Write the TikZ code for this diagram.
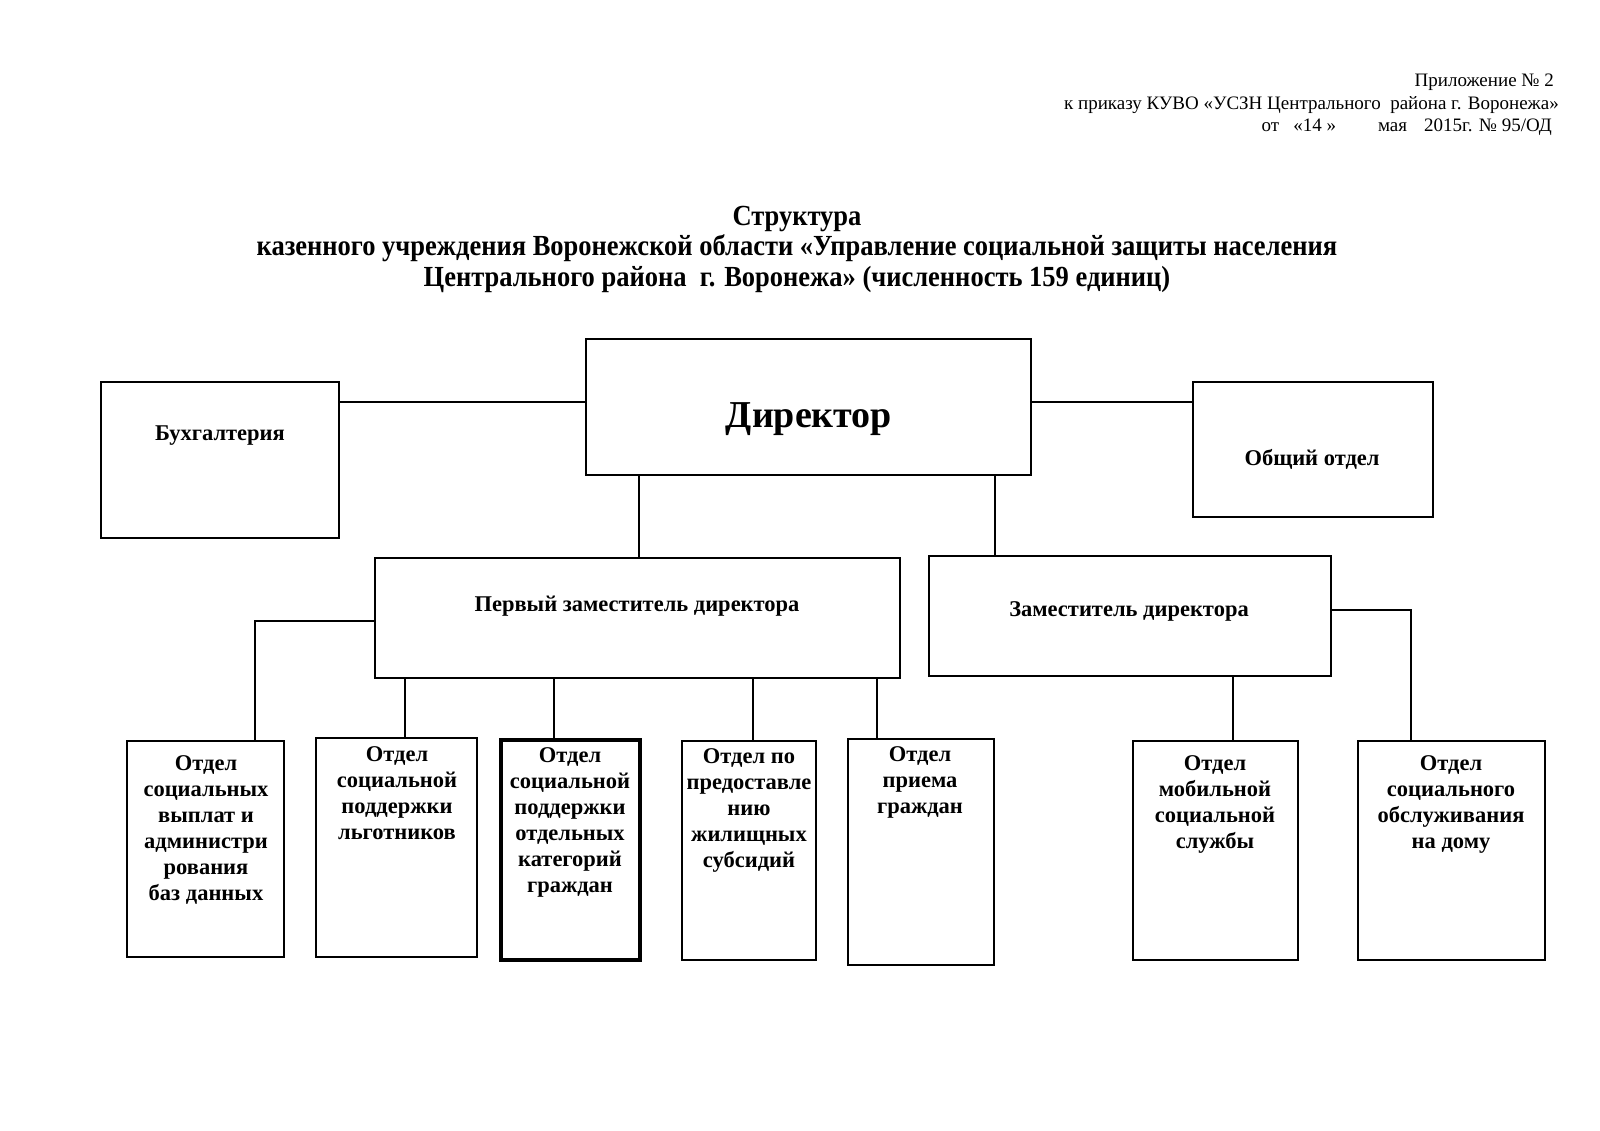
\documentclass[tikz,border=0pt]{standalone}
\usepackage{fontspec}
\setmainfont{Liberation Serif}
\begin{document}
\begin{tikzpicture}[x=1pt,y=-1pt,
  box/.style={draw, line width=2pt, inner sep=0pt},
  ln/.style={line width=2pt},
  hdr/.style={inner sep=0pt, font=\fontsize{19}{22}\selectfont},
  ttl/.style={inner sep=0pt, anchor=base, font=\fontsize{26.5}{30}\selectfont\bfseries},
  bt/.style={inner sep=0pt, anchor=north, align=center, font=\fontsize{22.5}{26}\selectfont\bfseries},
  mt/.style={inner sep=0pt, font=\fontsize{22.5}{26}\selectfont\bfseries}]
\useasboundingbox[fill=white] (0,0) rectangle (1600,1131);

% header
\node[hdr, anchor=base east] (h1) at (1554,87) {Приложение № 2};
\node[hdr, anchor=base east] (h2) at (1559,110) {к приказу КУВО «УСЗН Центрального\ \ района г. Воронежа»};
\node[hdr, anchor=base east] (h3) at (1552,132) {от\ \ \ «14 »\hspace{2.2em}мая\hspace{0.9em}2015г. № 95/ОД};

% title
\node[ttl] (t1) at (797,226) {\scalebox{1}[1.1]{Структура}};
\node[ttl] (t2) at (797,256) {\scalebox{1}[1.1]{казенного учреждения Воронежской области «Управление социальной защиты населения}};
\node[ttl] (t3) at (797,287) {\scalebox{1}[1.1]{Центрального района\ \ г. Воронежа» (численность 159 единиц)}};

% top boxes
\node[box, minimum width=445, minimum height=135.5] (dir) at (808.5,406.75) {};
\node[inner sep=0pt, font=\fontsize{38}{40}\selectfont\bfseries] (dirt) at (809,419) {Директор};
\node[box, minimum width=238, minimum height=156] (buh) at (220,460) {};
\node[mt] (buht) at (220,436) {Бухгалтерия};
\node[box, minimum width=240, minimum height=135] (obsh) at (1313,449.5) {};
\node[mt] (obsht) at (1312,459) {Общий отдел};

% deputies
\node[box, minimum width=525, minimum height=119.5] (perv) at (637.5,617.75) {};
\node[mt] (pervt) at (637,606) {Первый заместитель директора};
\node[box, minimum width=402, minimum height=119.5] (zam) at (1129.6,615.75) {};
\node[mt] (zamt) at (1129,611) {Заместитель директора};

% bottom boxes
\node[box, minimum width=156.5, minimum height=216] (b1) at (205.7,849) {};
\node[bt] (b1t) at (206,755) {Отдел\\ социальных\\ выплат и\\ администри\\ рования\\ баз данных};
\node[box, minimum width=160.5, minimum height=219] (b2) at (396.25,847.5) {};
\node[bt] (b2t) at (397,746) {Отдел\\ социальной\\ поддержки\\ льготников};
\node[box, line width=3.5pt, minimum width=139, minimum height=220] (b3) at (570.5,850) {};
\node[bt] (b3t) at (570,747) {Отдел\\ социальной\\ поддержки\\ отдельных\\ категорий\\ граждан};
\node[box, minimum width=134.4, minimum height=219] (b4) at (748.8,850.5) {};
\node[bt] (b4t) at (749,748) {Отдел по\\ предоставле\\ нию\\ жилищных\\ субсидий};
\node[box, minimum width=146, minimum height=226] (b5) at (921,852) {};
\node[bt] (b5t) at (920,746) {Отдел\\ приема\\ граждан};
\node[box, minimum width=165, minimum height=219] (b6) at (1215.5,850.5) {};
\node[bt] (b6t) at (1215,755) {Отдел\\ мобильной\\ социальной\\ службы};
\node[box, minimum width=187, minimum height=219] (b7) at (1451.5,850.5) {};
\node[bt] (b7t) at (1451,755) {Отдел\\ социального\\ обслуживания\\ на дому};

% connectors
\coordinate (c1) at ([yshift=-21pt]buh.north east);
\draw[ln] (c1) -- (c1 -| dir.west);
\draw[ln] (c1 -| dir.east) -- (c1 -| obsh.west);
\coordinate (d1) at ([xshift=54pt]dir.south west);
\draw[ln] (d1) -- (d1 |- perv.north);
\coordinate (d2) at ([xshift=-37pt]dir.south east);
\draw[ln] (d2) -- (d2 |- zam.north);
\coordinate (p0) at ([yshift=-64pt]perv.north west);
\coordinate (k1) at ([xshift=-29.5pt]b1.north east);
\draw[ln] (p0) -| (k1);
\coordinate (k2) at ([xshift=89.7pt]b2.north west);
\draw[ln] (k2 |- perv.south) -- (k2);
\coordinate (k3) at ([xshift=55pt]b3.north west);
\draw[ln] (k3 |- perv.south) -- (k3);
\coordinate (k4) at ([xshift=72.5pt]b4.north west);
\draw[ln] (k4 |- perv.south) -- (k4);
\coordinate (k5) at ([xshift=29.5pt]b5.north west);
\draw[ln] (k5 |- perv.south) -- (k5);
\coordinate (k6) at ([xshift=101pt]b6.north west);
\draw[ln] (k6 |- zam.south) -- (k6);
\coordinate (z0) at ([yshift=-55pt]zam.north east);
\coordinate (k7) at ([xshift=54pt]b7.north west);
\draw[ln] (z0) -| (k7);
\end{tikzpicture}
\end{document}
